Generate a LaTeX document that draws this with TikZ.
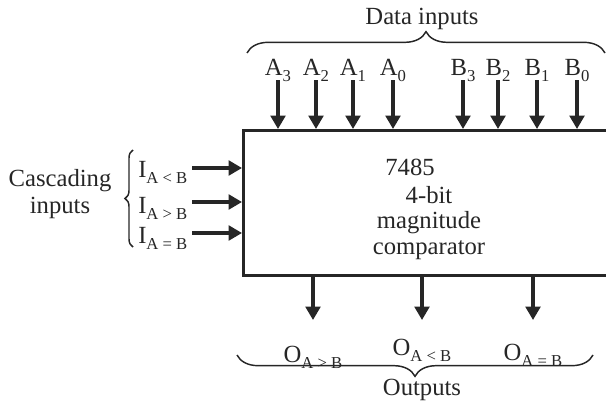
\documentclass[tikz,border=0pt]{standalone}
\usepackage{fontspec}
\setmainfont{Liberation Serif}
\usetikzlibrary{arrows.meta, positioning, decorations.pathreplacing}

\newcommand{\lowsub}[1]{\raisebox{-4.5pt}{\fontsize{12.5}{13}\selectfont #1}}

\begin{document}
\begin{tikzpicture}[
    x=0.75pt, y=-0.75pt,
    font=\fontsize{18.5}{20}\selectfont,
    every node/.style={text=black!85},
    chip/.style={rectangle, draw=black!85, line width=2pt, minimum width=290pt, minimum height=109pt, anchor=north west, inner sep=0pt},
    pin/.style={inner sep=0pt, anchor=base},
    arrow/.style={-{Triangle[width=11pt, length=10pt]}, line width=2.3pt, draw=black!85},
    curly/.style={decorate, decoration={brace, amplitude=#1}, line width=1.1pt, draw=black!85}
]
\useasboundingbox (0,0) rectangle (606,403);
\clip (0,0) rectangle (606,403);

\node[chip] (cmp) at (242,129) {};
\node[pin] (num) at (410,175) {7485};
\node[inner sep=0pt, anchor=north, align=center, font=\fontsize{18.5}{19}\selectfont] (desc) at (429,186) {4-bit\\magnitude\\comparator};

% data inputs
\foreach \x/\n/\s in {278/A/3, 316/A/2, 353/A/1, 393/A/0, 463/B/3, 498/B/2, 537/B/1, 577/B/0} {
    \node[pin] (\n\s) at (\x,75) {\n\lowsub{\s}};
    \coordinate (in\n\s) at (\x,80);
    \draw[arrow] (in\n\s) -- (in\n\s |- cmp.north);
}
\coordinate (dl) at (247,53);
\coordinate (dr) at (605,53);
\draw[curly=16pt] (dl) -- (dr);
\coordinate (dtip) at (422,30);
\node[above=0pt of dtip, inner sep=0pt] (dlbl) {Data inputs};

% cascading inputs
\foreach \y/\b/\n/\t in {168/177/lt/<, 202/213/gt/>, 233/243/eq/=} {
    \node[pin, anchor=base west] (I\n) at (138,\b) {I\lowsub{A~\t~B}};
    \coordinate (c\n) at (192,\y);
    \draw[arrow] (c\n) -- (c\n -| cmp.west);
}
\coordinate (cb) at (133,247);
\coordinate (ct) at (133,150);
\draw[curly=6pt] (cb) -- (ct);
\node[inner sep=0pt, anchor=north, align=center, font=\fontsize{18.5}{20}\selectfont] (clbl) at (60,169) {Cascading\\inputs};

% outputs
\foreach \x/\b/\n/\t in {313/362/gt/>, 422/355/lt/<, 533/360/eq/=} {
    \coordinate (o\n) at (\x,320);
    \draw[arrow] (cmp.south -| o\n) -- (o\n);
    \node[pin] (O\n) at (\x,\b) {O\lowsub{A~\t~B}};
}
\coordinate (ol) at (237,355);
\coordinate (or) at (593,355);
\draw[curly=16pt] (or) -- (ol);
\coordinate (otip) at (422,378);
\node[below=1pt of otip, inner sep=0pt] (olbl) {Outputs};

\end{tikzpicture}
\end{document}
